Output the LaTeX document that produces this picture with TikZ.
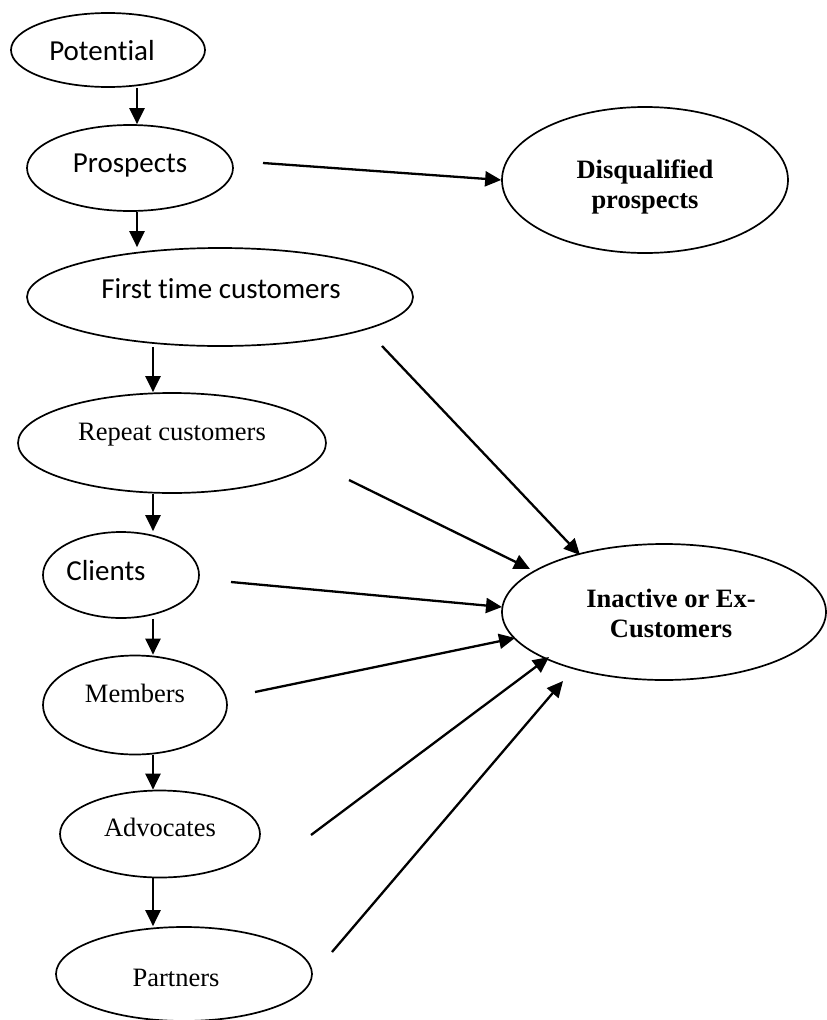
\documentclass[tikz,border=0pt]{standalone}
\usepackage{fontspec}
\setmainfont{Liberation Serif}
\newfontfamily\calibri[Ligatures=NoCommon]{Carlito}
\usetikzlibrary{shapes.geometric,arrows.meta}

\begin{document}
\begin{tikzpicture}[x=1pt,y=-1pt,
  oval/.style={draw, ellipse, line width=1.7pt, inner sep=0pt},
  sanslbl/.style={font=\calibri\fontsize{29}{34}\selectfont, anchor=base, inner sep=0pt},
  seriflbl/.style={font=\fontsize{26.5}{31}\selectfont, anchor=base, inner sep=0pt},
  boldlbl/.style={font=\bfseries\fontsize{26.5}{30}\selectfont, align=center, inner sep=0pt},
  flow/.style={line width=2.3pt, -{Triangle[length=16pt,width=15pt]}},
]
\useasboundingbox (0,0) rectangle (827,1020);
\clip (0,0) rectangle (827,1020);

% stages of the customer ladder
\node[oval, minimum width=194pt, minimum height=74pt]  (pot) at (108,50)  {};
\node[oval, minimum width=206pt, minimum height=86pt]  (pro) at (130,168) {};
\node[oval, minimum width=386pt, minimum height=98pt]  (fir) at (220,297) {};
\node[oval, minimum width=308pt, minimum height=100pt] (rep) at (172,443) {};
\node[oval, minimum width=156pt, minimum height=86pt]  (cli) at (121,575) {};
\node[oval, minimum width=184pt, minimum height=99pt]  (mem) at (135,705) {};
\node[oval, minimum width=200pt, minimum height=87pt]  (adv) at (160,834) {};
\node[oval, minimum width=256pt, minimum height=94pt]  (par) at (184,974) {};

% exits
\node[oval, minimum width=286pt, minimum height=146pt] (dis) at (645,180) {};
\node[oval, minimum width=324pt, minimum height=136pt] (ina) at (664,612) {};

% labels
\node[sanslbl]  (pot-t) at (102,60)  {Potential};
\node[sanslbl]  (pro-t) at (130,172) {Prospects};
\node[sanslbl]  (fir-t) at (221,298) {First time customers};
\node[seriflbl] (rep-t) at (172,440) {Repeat customers};
\node[sanslbl]  (cli-t) at (106,580) {Clients};
\node[seriflbl] (mem-t) at (135,702) {Members};
\node[seriflbl] (adv-t) at (160,836) {Advocates};
\node[seriflbl] (par-t) at (176,986) {Partners};
\node[boldlbl]  (dis-t) at (645,187) {Disqualified\\prospects};
\node[boldlbl]  (ina-t) at (671,613) {Inactive or Ex-\\Customers};

% columns of the downward arrows
\coordinate (colA) at (137,0);
\coordinate (colB) at (153,0);

\draw[flow] (pot.south -| colA) -- (pro.north -| colA);
\draw[flow] (pro.south -| colA) -- (fir.north -| colA);
\draw[flow] (fir.south -| colB) -- (rep.north -| colB);
\draw[flow] (rep.south -| colB) -- (cli.north -| colB);
\draw[flow] (cli.south -| colB) -- (mem.north -| colB);
\draw[flow] (mem.south -| colB) -- (adv.north -| colB);
\draw[flow] (adv.south -| colB) -- (par.north -| colB);

% free ends of the side arrows
\coordinate (pro-o) at (263,163);
\coordinate (fir-o) at (382,346);
\coordinate (rep-o) at (349,480);
\coordinate (cli-o) at (231,582);
\coordinate (mem-o) at (255,692);
\coordinate (adv-o) at (311,835);
\coordinate (par-o) at (332,952);
\coordinate (ina-1) at (580,555);
\coordinate (ina-2) at (530,569);
\coordinate (ina-3) at (502,607);
\coordinate (ina-4) at (515,638);
\coordinate (ina-5) at (549,657);
\coordinate (ina-6) at (563,681);

\draw[flow] (pro-o) -- (dis.west);
\draw[flow] (fir-o) -- (ina-1);
\draw[flow] (rep-o) -- (ina-2);
\draw[flow] (cli-o) -- (ina-3);
\draw[flow] (mem-o) -- (ina-4);
\draw[flow] (adv-o) -- (ina-5);
\draw[flow] (par-o) -- (ina-6);
\end{tikzpicture}
\end{document}
